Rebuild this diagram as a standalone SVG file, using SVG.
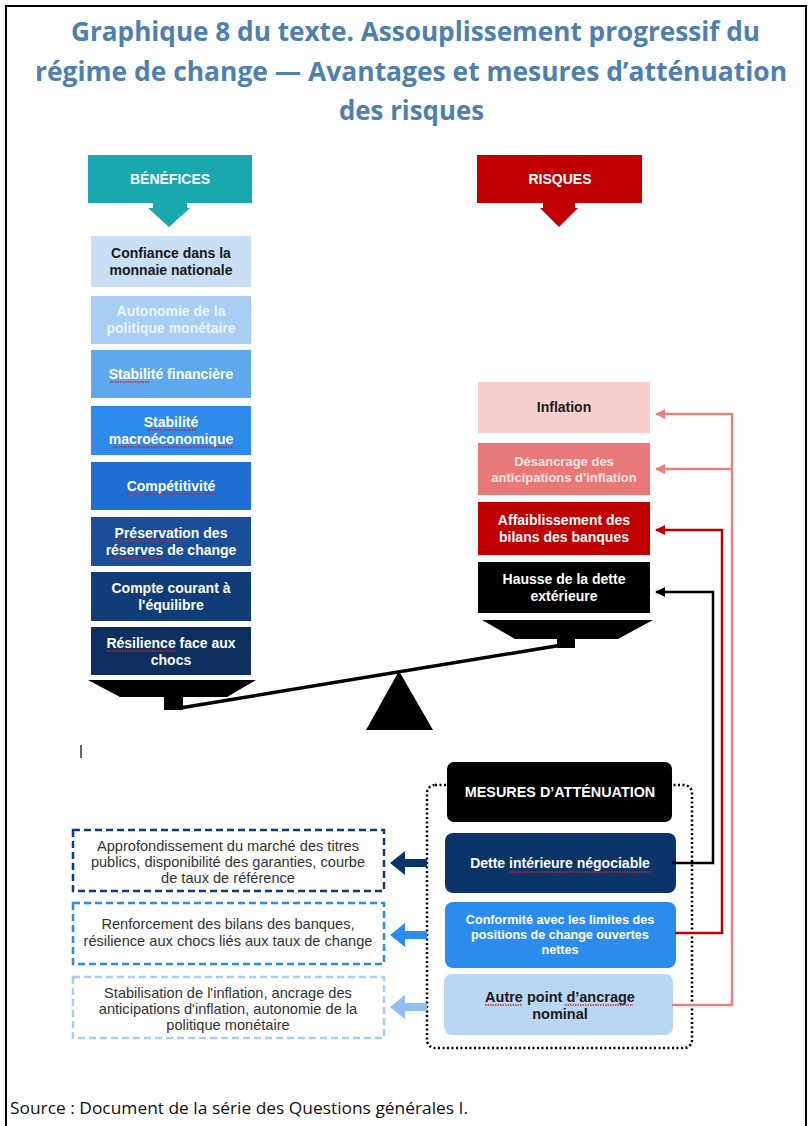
<svg xmlns="http://www.w3.org/2000/svg" width="811" height="1126" viewBox="0 0 811 1126">
<defs>
<style>
.title{font-family:"Open Sans","Liberation Sans",sans-serif;font-weight:700;font-size:26px;fill:#4E7FAE;text-anchor:middle}
.bt{font-family:"Liberation Sans",Arial,sans-serif;font-weight:700;font-size:14px;text-anchor:middle}
.hd{font-family:"Liberation Sans",Arial,sans-serif;font-weight:700;font-size:14px;text-anchor:middle;fill:#fff}
.lt{font-family:"Liberation Sans",Arial,sans-serif;font-size:14.6px;text-anchor:middle;fill:#333}
.src{font-family:"Open Sans","Liberation Sans",sans-serif;font-size:17px;fill:#111}
.w{fill:#fff}
.k{fill:#1a1a1a}
.dash{fill:#fff;stroke-width:2.5;stroke-dasharray:7 4}
.conn{fill:none;stroke-width:2.5}
.sq{fill:none;stroke:#D42020;stroke-width:1.3;stroke-dasharray:1.5 1}
</style>
<marker id="mp" viewBox="0 0 10 10" refX="9" refY="5" markerWidth="4" markerHeight="4" orient="auto"><path d="M0,0 L10,5 L0,10 z" fill="#E8807E"/></marker>
<marker id="mr" viewBox="0 0 10 10" refX="9" refY="5" markerWidth="4" markerHeight="4" orient="auto"><path d="M0,0 L10,5 L0,10 z" fill="#C00000"/></marker>
<marker id="mk" viewBox="0 0 10 10" refX="9" refY="5" markerWidth="4" markerHeight="4" orient="auto"><path d="M0,0 L10,5 L0,10 z" fill="#000"/></marker>
</defs>
<rect x="0" y="0" width="811" height="1126" fill="#fff"/>
<rect x="6" y="6" width="800" height="1130" fill="none" stroke="#000" stroke-width="2"/>
<g id="title">
<text class="title" x="415.5" y="41" textLength="689" lengthAdjust="spacingAndGlyphs">Graphique 8 du texte. Assouplissement progressif du</text>
<text class="title" x="411" y="81" textLength="752" lengthAdjust="spacingAndGlyphs">régime de change — Avantages et mesures d’atténuation</text>
<text class="title" x="411.5" y="120" textLength="145" lengthAdjust="spacingAndGlyphs">des risques</text>
</g>
<g id="benefices-header">
<rect x="88" y="155" width="164" height="48" fill="#19A8AE"/>
<polygon points="153,203 187,203 187,208 190,208 169,227 148,208 153,208" fill="#19A8AE"/>
<text class="hd" x="170" y="184">BÉNÉFICES</text>
</g>
<g id="b1"><rect x="91" y="236" width="160" height="51" fill="#C9DFF5"/><text class="bt k" x="171" y="258">Confiance dans la</text><text class="bt k" x="171" y="275">monnaie nationale</text></g>
<g id="b2"><rect x="91" y="296" width="160" height="48" fill="#A9CEF3"/><text class="bt" fill="#EAF3FC" x="171" y="316">Autonomie de la</text><text class="bt" fill="#EAF3FC" x="171" y="333">politique monétaire</text></g>
<g id="b3"><rect x="91" y="350" width="160" height="48" fill="#5EA8F0"/><text class="bt w" x="171" y="379">Stabilité financière</text><line class="sq" x1="110" y1="382" x2="150" y2="382"/></g>
<g id="b4"><rect x="91" y="406" width="160" height="49" fill="#2F8BEB"/><text class="bt w" x="171" y="427">Stabilité</text><text class="bt w" x="171" y="444">macroéconomique</text><line class="sq" x1="147" y1="430" x2="196" y2="430"/><line class="sq" x1="113" y1="447" x2="232" y2="447"/></g>
<g id="b5"><rect x="91" y="462" width="160" height="48" fill="#1F6FD5"/><text class="bt w" x="171" y="491">Compétitivité</text><line class="sq" x1="127" y1="494" x2="217" y2="494"/></g>
<g id="b6"><rect x="91" y="517" width="160" height="49" fill="#1A4E98"/><text class="bt w" x="171" y="538">Préservation des</text><text class="bt w" x="171" y="555">réserves de change</text><line class="sq" x1="115" y1="541" x2="186" y2="541"/><line class="sq" x1="113" y1="558" x2="163" y2="558"/></g>
<g id="b7"><rect x="91" y="572" width="160" height="49" fill="#103C78"/><text class="bt w" x="171" y="593">Compte courant à</text><text class="bt w" x="171" y="610">l'équilibre</text></g>
<g id="b8"><rect x="91" y="627" width="160" height="48" fill="#0C2F5F"/><text class="bt w" x="171" y="648">Résilience face aux</text><text class="bt w" x="171" y="665">chocs</text><line class="sq" x1="107" y1="651" x2="176" y2="651"/></g>
<g id="balance">
<polygon points="88,680 256,680 227,697 120,697" fill="#000"/>
<rect x="164" y="696" width="19" height="14" fill="#000"/>
<line x1="180" y1="708" x2="562" y2="645" stroke="#000" stroke-width="3.5"/>
<polygon points="399,671 433,730 366,730" fill="#000"/>
<polygon points="482,620 653,620 618,639 515,639" fill="#000"/>
<rect x="557" y="638" width="18" height="10" fill="#000"/>
</g>
<line x1="81" y1="745" x2="81" y2="758" stroke="#333" stroke-width="1.5"/>
<g id="risques-header">
<rect x="477" y="155" width="165" height="48" fill="#C00000"/>
<polygon points="543,203 575,203 575,208 578,208 559,227 540,208 543,208" fill="#C00000"/>
<text class="hd" x="560" y="184">RISQUES</text>
</g>
<g id="r1"><rect x="478" y="382" width="172" height="51" fill="#F7CFCF"/><text class="bt k" x="564" y="412">Inflation</text></g>
<g id="r2"><rect x="478" y="443" width="172" height="52" fill="#E77A78"/><text class="bt" fill="#FBE3E3" style="font-size:13px" x="564" y="466">Désancrage des</text><text class="bt" fill="#FBE3E3" style="font-size:13px" x="564" y="482">anticipations d'inflation</text></g>
<g id="r3"><rect x="478" y="502" width="172" height="53" fill="#C00000"/><text class="bt w" x="564" y="525">Affaiblissement des</text><text class="bt w" x="564" y="542">bilans des banques</text></g>
<g id="r4"><rect x="478" y="562" width="172" height="51" fill="#000"/><text class="bt w" x="564" y="584">Hausse de la dette</text><text class="bt w" x="564" y="601">extérieure</text></g>
<g id="mesures">
<rect x="427" y="785" width="265" height="263" rx="8" fill="none" stroke="#000" stroke-width="2.5" stroke-dasharray="2 2.5"/>
<rect x="447" y="762" width="225" height="60" rx="7" fill="#000"/>
<text class="hd" style="font-size:14.4px" x="560" y="797">MESURES D’ATTÉNUATION</text>
</g>
<g id="m1"><rect x="445" y="833" width="231" height="60" rx="8" fill="#0B3468"/><text class="bt w" x="560" y="868">Dette intérieure négociable</text><line class="sq" x1="509" y1="872" x2="651" y2="872"/></g>
<g id="m2"><rect x="445" y="902" width="231" height="66" rx="8" fill="#2B8CEE"/><text class="bt w" style="font-size:12.6px" x="560" y="924">Conformité avec les limites des</text><text class="bt w" style="font-size:12.6px" x="560" y="939">positions de change ouvertes</text><text class="bt w" style="font-size:12.6px" x="560" y="954">nettes</text></g>
<g id="m3"><rect x="444" y="974" width="229" height="61" rx="8" fill="#B9D7F5"/><text class="bt k" style="font-size:14.5px" x="560" y="1002">Autre point d’ancrage</text><text class="bt k" style="font-size:14.5px" x="560" y="1019">nominal</text><line class="sq" x1="485" y1="1005" x2="522" y2="1005"/><line class="sq" x1="565" y1="1005" x2="633" y2="1005"/></g>
<g id="l1"><rect x="73" y="830" width="311" height="61" class="dash" stroke="#0F3C78"/><text class="lt" x="228" y="851">Approfondissement du marché des titres</text><text class="lt" x="228" y="867">publics, disponibilité des garanties, courbe</text><text class="lt" x="228" y="883">de taux de référence</text></g>
<g id="l2"><rect x="73" y="903" width="311" height="61" class="dash" stroke="#2B8CEE"/><text class="lt" x="228" y="929">Renforcement des bilans des banques,</text><text class="lt" x="228" y="946">résilience aux chocs liés aux taux de change</text></g>
<g id="l3"><rect x="73" y="977" width="311" height="61" class="dash" stroke="#A9CEF3"/><text class="lt" x="228" y="998">Stabilisation de l'inflation, ancrage des</text><text class="lt" x="228" y="1014">anticipations d'inflation, autonomie de la</text><text class="lt" x="228" y="1030">politique monétaire</text></g>
<g id="connectors">
<polygon points="390,863 405,851 405,859 427,859 427,867 405,867 405,875" fill="#0B3468"/>
<polygon points="390,935 405,923 405,931 427,931 427,939 405,939 405,947" fill="#2B8CEE"/>
<polygon points="390,1007 405,995 405,1003 427,1003 427,1011 405,1011 405,1019" fill="#8FC0F0"/>
<polyline class="conn" stroke="#E8807E" points="672,1005 732,1005 732,414 656,414" marker-end="url(#mp)"/>
<polyline class="conn" stroke="#E8807E" points="732,469 656,469" marker-end="url(#mp)"/>
<polyline class="conn" stroke="#C00000" points="675,933 722,933 722,530 656,530" marker-end="url(#mr)"/>
<polyline class="conn" stroke="#000" points="672,863 713,863 713,592 656,592" marker-end="url(#mk)"/>
</g>
<text class="src" x="10" y="1114" textLength="458" lengthAdjust="spacingAndGlyphs">Source : Document de la série des Questions générales I.</text>
</svg>
